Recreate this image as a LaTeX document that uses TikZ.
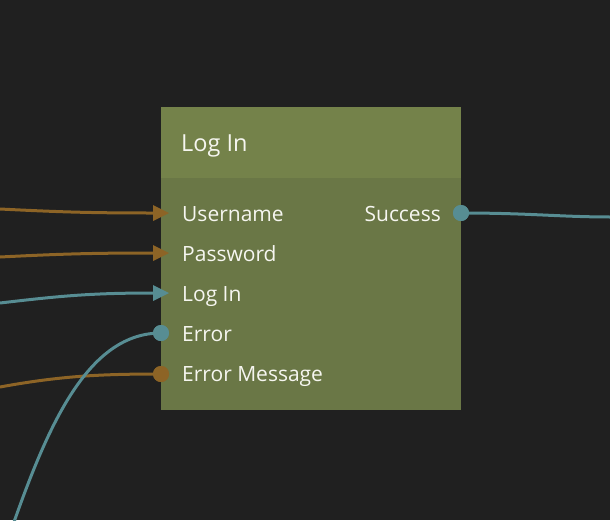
\documentclass[tikz,border=0pt]{standalone}
\usepackage{fontspec}
\setmainfont{Open Sans}
\usetikzlibrary{arrows.meta}
\definecolor{bgc}{HTML}{202020}
\definecolor{headc}{HTML}{74824A}
\definecolor{bodyc}{HTML}{6A7746}
\definecolor{orangec}{HTML}{8D6426}
\definecolor{tealc}{HTML}{578D93}
\definecolor{txtc}{HTML}{F6F6F0}
\tikzset{
  wire/.style={line width=3pt},
  owire/.style={wire, draw=orangec},
  twire/.style={wire, draw=tealc},
  lbl/.style={inner sep=0pt, text=txtc, font=\fontsize{21}{24}\selectfont},
  dot/.style={circle, fill=#1, minimum size=16pt, inner sep=0pt, draw=none},
}
\begin{document}
\begin{tikzpicture}[x=1pt,y=-1pt]
\fill[bgc] (0,0) rectangle (610,520);
\useasboundingbox (0,0) rectangle (610,520);
% node box
\fill[bodyc] (161,107) rectangle (461,410);
\fill[headc] (161,107) rectangle (461,178);
\node[lbl, anchor=base west, font=\fontsize{23.5}{27}\selectfont] (title) at (181,151) {Log In};
% labels
\node[lbl, anchor=base west] (user) at (182,221) {Username};
\node[lbl, anchor=base west] (pass) at (182,261) {Password};
\node[lbl, anchor=base west] (login) at (182,301) {Log In};
\node[lbl, anchor=base west] (err) at (182,341) {Error};
\node[lbl, anchor=base west] (errmsg) at (182,381) {Error Message};
\node[lbl, anchor=base east] (succ) at (441,221) {Success};
% ports
\coordinate (pU) at (154,213);
\coordinate (pP) at (154,253);
\coordinate (pL) at (154,293);
\node[dot=tealc] (pE) at (161,333) {};
\node[dot=orangec] (pM) at (161,374) {};
\node[dot=tealc] (pS) at (461,213) {};
% free ends
\coordinate (sU) at (0,209);
\coordinate (sP) at (0,257);
\coordinate (sL) at (0,303);
\coordinate (sE) at (14,522);
\coordinate (sM) at (0,387);
\coordinate (eS) at (612,217);
% wires
\draw[owire] (sU) .. controls (60,212) and (90,213) .. (pU);
\draw[owire] (sP) .. controls (60,254) and (90,253) .. (pP);
\draw[twire] (sL) .. controls (60,296) and (90,293) .. (pL);
\draw[owire] (sM) .. controls (60,376) and (100,374) .. (pM.center);
\draw[twire] (pE.center) .. controls (90,333) and (50,420) .. (sE);
\draw[twire] (pS.center) .. controls (530,213) and (560,217) .. (eS);
% redraw dots on top
\node[dot=tealc] at (pE) {};
\node[dot=orangec] at (pM) {};
\node[dot=tealc] at (pS) {};
% arrow tips
\fill[orangec] (153,205) -- (169,213) -- (153,221) -- cycle;
\fill[orangec] (153,245) -- (169,253) -- (153,261) -- cycle;
\fill[tealc] (153,285) -- (169,293) -- (153,301) -- cycle;
\end{tikzpicture}
\end{document}
